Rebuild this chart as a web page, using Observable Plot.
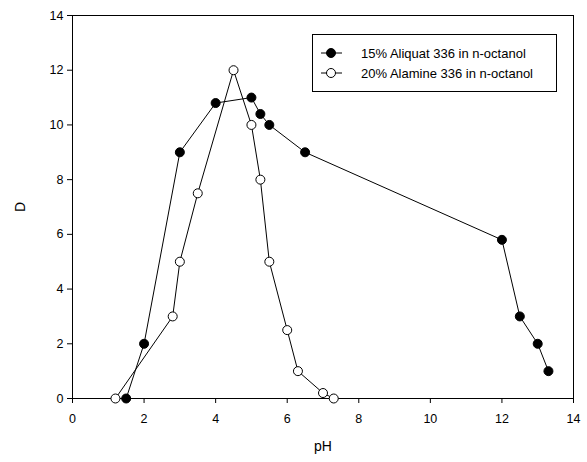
<!DOCTYPE html>
<html>
<head>
<meta charset="utf-8">
<script src="https://cdn.jsdelivr.net/npm/d3@7"></script>
<script src="https://cdn.jsdelivr.net/npm/@observablehq/plot@0.6"></script>
<style>
  html, body { margin: 0; padding: 0; background: #fff; }
  #chart svg { font-family: "Liberation Sans", Arial, sans-serif; }
</style>
</head>
<body>
<div id="chart"></div>
<script>
const seriesNames = ["15% Aliquat 336 in n-octanol", "20% Alamine 336 in n-octanol"];
const aliquatPH = [1.5, 2.0, 3.0, 4.0, 5.0, 5.25, 5.5, 6.5, 12.0, 12.5, 13.0, 13.3];
const aliquatD  = [0.0, 2.0, 9.0, 10.8, 11.0, 10.4, 10.0, 9.0, 5.8, 3.0, 2.0, 1.0];
const alaminePH = [1.2, 2.8, 3.0, 3.5, 4.5, 5.0, 5.25, 5.5, 6.0, 6.3, 7.0, 7.3];
const alamineD  = [0.0, 3.0, 5.0, 7.5, 12.0, 10.0, 8.0, 5.0, 2.5, 1.0, 0.2, 0.0];
const xTicks = [0, 2, 4, 6, 8, 10, 12, 14];
const yTicks = [0, 2, 4, 6, 8, 10, 12, 14];

const aliquat = aliquatPH.map((x, i) => ({x, y: aliquatD[i], s: seriesNames[0]}));
const alamine = alaminePH.map((x, i) => ({x, y: alamineD[i], s: seriesNames[1]}));

const chart = Plot.plot({
  width: 587,
  height: 462,
  marginLeft: 72,
  marginRight: 14,
  marginTop: 15,
  marginBottom: 64,
  style: {fontFamily: "Liberation Sans, Arial, sans-serif", fontSize: "12.5px", background: "#fff", color: "#000"},
  x: {domain: [0, 14]},
  y: {domain: [0, 14]},
  marks: [
    Plot.frame({stroke: "#000", strokeWidth: 1}),
    Plot.axisX({ticks: xTicks, tickSize: 5, tickPadding: 11, fontSize: 12.5, label: "pH", labelAnchor: "center", labelArrow: "none", labelOffset: 52}),
    Plot.axisY({ticks: yTicks, tickSize: 5, tickPadding: 4, fontSize: 12.5, label: "D", labelAnchor: "center", labelArrow: "none", labelOffset: 57}),
    Plot.line(alamine, {x: "x", y: "y", stroke: "#000", strokeWidth: 1}),
    Plot.line(aliquat, {x: "x", y: "y", stroke: "#000", strokeWidth: 1}),
    Plot.dot(alamine, {x: "x", y: "y", r: 4.5, fill: "#fff", stroke: "#000", strokeWidth: 1}),
    Plot.dot(aliquat, {x: "x", y: "y", r: 4.5, fill: "#000", stroke: "#000", strokeWidth: 1})
  ]
});

d3.select(chart).selectAll("g[aria-label='x-axis label'] text, g[aria-label='y-axis label'] text").style("font-size", "14px");

// legend box (layout only)
const svg = d3.select(chart);
const lg = svg.append("g").attr("font-family", "Liberation Sans, Arial, sans-serif").attr("font-size", 13).attr("text-anchor", "start");
lg.append("rect").attr("x", 312.5).attr("y", 34.5).attr("width", 244).attr("height", 57)
  .attr("fill", "#fff").attr("stroke", "#000");
const fills = ["#000", "#fff"];
seriesNames.forEach((name, i) => {
  const cy = 53 + i * 20;
  lg.append("line").attr("x1", 321).attr("x2", 342).attr("y1", cy).attr("y2", cy).attr("stroke", "#000");
  lg.append("circle").attr("cx", 331).attr("cy", cy).attr("r", 4.5).attr("fill", fills[i]).attr("stroke", "#000");
  lg.append("text").attr("x", 361).attr("y", cy).attr("dy", "0.35em").attr("text-anchor", "start").text(name);
});

document.getElementById("chart").appendChild(chart);
</script>
</body>
</html>
